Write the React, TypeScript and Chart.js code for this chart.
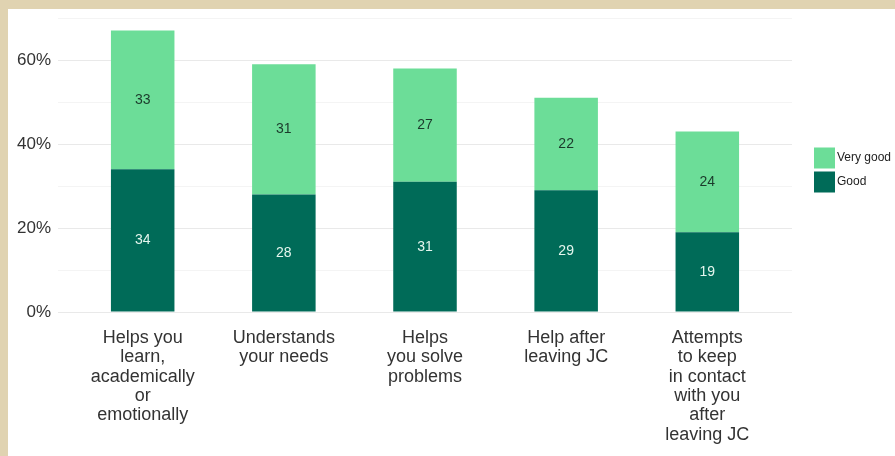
import React, { useEffect, useRef } from "react";
import { Chart, registerables } from "chart.js";

Chart.register(...registerables);

const categories: string[][] = [
  ["Helps you", "learn,", "academically", "or", "emotionally"],
  ["Understands", "your needs"],
  ["Helps", "you solve", "problems"],
  ["Help after", "leaving JC"],
  ["Attempts", "to keep", "in contact", "with you", "after", "leaving JC"],
];
const goodValues = [34, 28, 31, 29, 19];
const veryGoodValues = [33, 31, 27, 22, 24];
const yTicks = [0, 10, 20, 30, 40, 50, 60, 70];

const FONT = "'Liberation Sans', Arial, Helvetica, sans-serif";
const LIGHT = "#6cdd98";
const DARK = "#006b58";

const valueLabels = {
  id: "valueLabels",
  afterDatasetsDraw(chart: any) {
    const ctx = chart.ctx;
    ctx.save();
    ctx.font = `14px ${FONT}`;
    ctx.textAlign = "center";
    ctx.textBaseline = "middle";
    chart.data.datasets.forEach((ds: any, di: number) => {
      const meta = chart.getDatasetMeta(di);
      ctx.fillStyle = ds.labelColor;
      meta.data.forEach((el: any, i: number) => {
        const v = ds.data[i].y;
        ctx.fillText(String(v), el.x, (el.y + el.base) / 2);
      });
    });
    ctx.restore();
  },
};

const sideLegend = {
  id: "sideLegend",
  afterDraw(chart: any) {
    const ctx = chart.ctx;
    const area = chart.chartArea;
    const box = 21;
    const gap = 3;
    const items = [...chart.data.datasets].reverse();
    const total = items.length * box + (items.length - 1) * gap;
    const x = area.right + 22;
    let y = (area.top + area.bottom) / 2 - total / 2 + 5;
    ctx.save();
    ctx.font = `12px ${FONT}`;
    ctx.textAlign = "left";
    ctx.textBaseline = "middle";
    items.forEach((ds: any) => {
      ctx.fillStyle = ds.backgroundColor;
      ctx.fillRect(x, y, box, box);
      ctx.fillStyle = "#222";
      ctx.fillText(ds.label, x + box + 2, y + box / 2);
      y += box + gap;
    });
    ctx.restore();
  },
};

export default function App() {
  const ref = useRef<HTMLCanvasElement | null>(null);

  useEffect(() => {
    if (!ref.current) return;
    const chart = new Chart(ref.current, {
      type: "bar",
      data: {
        datasets: [
          {
            label: "Good",
            data: goodValues.map((v, i) => ({ x: i, y: v })),
            backgroundColor: DARK,
            labelColor: "#e4f6ee",
            barPercentage: 0.45,
            categoryPercentage: 1,
          } as any,
          {
            label: "Very good",
            data: veryGoodValues.map((v, i) => ({ x: i, y: v })),
            backgroundColor: LIGHT,
            labelColor: "#1b3a2b",
            barPercentage: 0.45,
            categoryPercentage: 1,
          } as any,
        ],
      },
      options: {
        animation: false,
        responsive: true,
        maintainAspectRatio: false,
        layout: { padding: { top: 9, right: 103, bottom: 0, left: 0 } },
        plugins: {
          legend: { display: false },
          tooltip: { enabled: false },
        },
        scales: {
          x: {
            type: "linear",
            stacked: true,
            offset: false,
            bounds: "data",
            min: -0.6,
            max: categories.length - 0.4,
            grid: { display: false, drawTicks: false, offset: false },
            border: { display: false },
            afterBuildTicks: (axis: any) => {
              axis.ticks = categories.map((_, i) => ({ value: i }));
            },
            afterFit: (axis: any) => {
              axis.height = 144;
              axis.paddingLeft = 0;
              axis.paddingRight = 0;
            },
            ticks: {
              autoSkip: false,
              maxRotation: 0,
              minRotation: 0,
              padding: 16,
              color: "#333",
              font: { family: FONT, size: 18, lineHeight: 1.08 },
              callback: (v: any) => categories[Math.round(Number(v))] ?? "",
            },
          },
          y: {
            stacked: true,
            min: 0,
            max: 70,
            afterBuildTicks: (axis: any) => {
              axis.ticks = yTicks.map((v) => ({ value: v }));
            },
            afterFit: (axis: any) => {
              axis.width = 50;
              axis.paddingTop = 0;
              axis.paddingBottom = 0;
            },
            grid: {
              drawTicks: false,
              color: (c: any) =>
                c.tick && c.tick.value % 20 === 0 ? "#e9e9e9" : "#f4f4f4",
              lineWidth: 1,
            },
            border: { display: false },
            ticks: {
              padding: 7,
              color: "#333",
              font: { family: FONT, size: 17 },
              callback: (v: any) => (Number(v) % 20 === 0 ? `${v}%` : ""),
            },
          },
        },
      },
      plugins: [valueLabels, sideLegend],
    });
    return () => chart.destroy();
  }, []);

  return (
    <div style={{ position: "fixed", inset: 0, background: "#e0d3b1" }}>
      <div
        style={{
          position: "absolute",
          left: 8,
          top: 9,
          width: 887,
          height: 447,
          background: "#ffffff",
        }}
      >
        <canvas ref={ref} />
      </div>
    </div>
  );
}
